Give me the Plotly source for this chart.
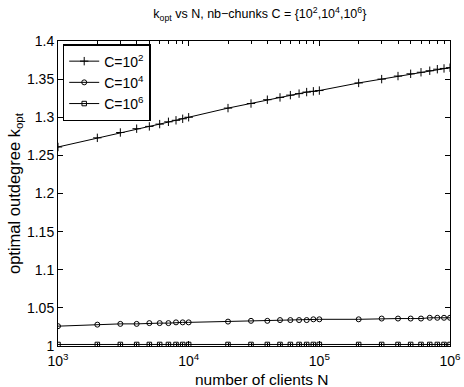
import plotly.graph_objects as go

N = [1000, 2000, 3000, 4000, 5000, 6000, 7000, 8000, 9000,
     10000, 20000, 30000, 40000, 50000, 60000, 70000, 80000, 90000,
     100000, 200000, 300000, 400000, 500000, 600000, 700000, 800000, 900000,
     1000000]

k_c2 = [1.261, 1.273, 1.280, 1.285, 1.288, 1.291, 1.294, 1.296, 1.298,
        1.300, 1.312, 1.318, 1.323, 1.326, 1.329, 1.331, 1.333, 1.334,
        1.335, 1.345, 1.350, 1.354, 1.357, 1.359, 1.361, 1.363, 1.364,
        1.365]
k_c4 = [1.026, 1.028, 1.029, 1.029, 1.030, 1.030, 1.030, 1.031, 1.031,
        1.031, 1.032, 1.033, 1.033, 1.034, 1.034, 1.034, 1.034, 1.035,
        1.035, 1.035, 1.036, 1.036, 1.036, 1.036, 1.037, 1.037, 1.037,
        1.037]
k_c6 = [1.002] * 28

series_names = ["C=10<sup>2</sup>", "C=10<sup>4</sup>", "C=10<sup>6</sup>"]
series_vals = [k_c2, k_c4, k_c6]
series_symbols = ["cross-thin-open", "circle-open", "square-open"]
series_sizes = [6, 5, 4.5]

xtick_vals = [1e3, 1e4, 1e5, 1e6]
xtick_text = ["10<sup>3</sup>", "10<sup>4</sup>", "10<sup>5</sup>", "10<sup>6</sup>"]
ytick_vals = [1, 1.05, 1.1, 1.15, 1.2, 1.25, 1.3, 1.35, 1.4]

minor_x = [m * 10 ** e for e in (3, 4, 5) for m in range(2, 10)]

fig = go.Figure()
for name, vals, sym, sz in zip(series_names, series_vals, series_symbols, series_sizes):
    fig.add_trace(go.Scatter(
        x=N, y=vals, name=name, mode="lines+markers",
        line=dict(color="black", width=1),
        marker=dict(symbol=sym, size=sz, color="black", line=dict(color="black", width=1)),
    ))

font = "Liberation Sans, Arial, sans-serif"
fig.update_layout(
    width=464, height=387,
    margin=dict(l=58, r=14, t=41, b=41),
    paper_bgcolor="white", plot_bgcolor="white",
    font=dict(family=font, size=14, color="black"),
    title=dict(text="k<sub>opt</sub> vs N, nb\u2212chunks C = {10<sup>2</sup>,10<sup>4</sup>,10<sup>6</sup>}",
               x=0.56, xanchor="center", y=0.965, yanchor="middle",
               font=dict(size=12.5)),
    showlegend=True,
    legend=dict(x=0.012, y=0.99, xanchor="left", yanchor="top",
                bordercolor="black", borderwidth=1.5, bgcolor="white",
                font=dict(size=14), tracegroupgap=0, itemwidth=30),
    annotations=[dict(text="number of clients N", xref="paper", yref="paper",
                      x=0.52, y=0, xanchor="center", yanchor="middle", yshift=-33,
                      showarrow=False, font=dict(size=15.5))],
)
fig.update_xaxes(
    type="log", range=[3, 6],
    tickmode="array", tickvals=xtick_vals, ticktext=xtick_text,
    ticks="inside", ticklen=5, tickcolor="black",
    ticklabelstandoff=2,
    minor=dict(ticks="inside", ticklen=3, tickcolor="black", tickmode="array", tickvals=minor_x),
    showline=True, linecolor="black", linewidth=1, mirror="ticks",
    showgrid=False, zeroline=False, automargin=False,
    tickfont=dict(size=14),
)
fig.update_yaxes(
    range=[1, 1.4],
    tickmode="array", tickvals=ytick_vals,
    ticks="inside", ticklen=5, tickcolor="black",
    showline=True, linecolor="black", linewidth=1, mirror="ticks",
    showgrid=False, zeroline=False, automargin=False,
    title=dict(text="optimal outdegree k<sub>opt</sub>", standoff=2, font=dict(size=16.5)),
    tickfont=dict(size=14),
)

fig.write_html("out.html")
